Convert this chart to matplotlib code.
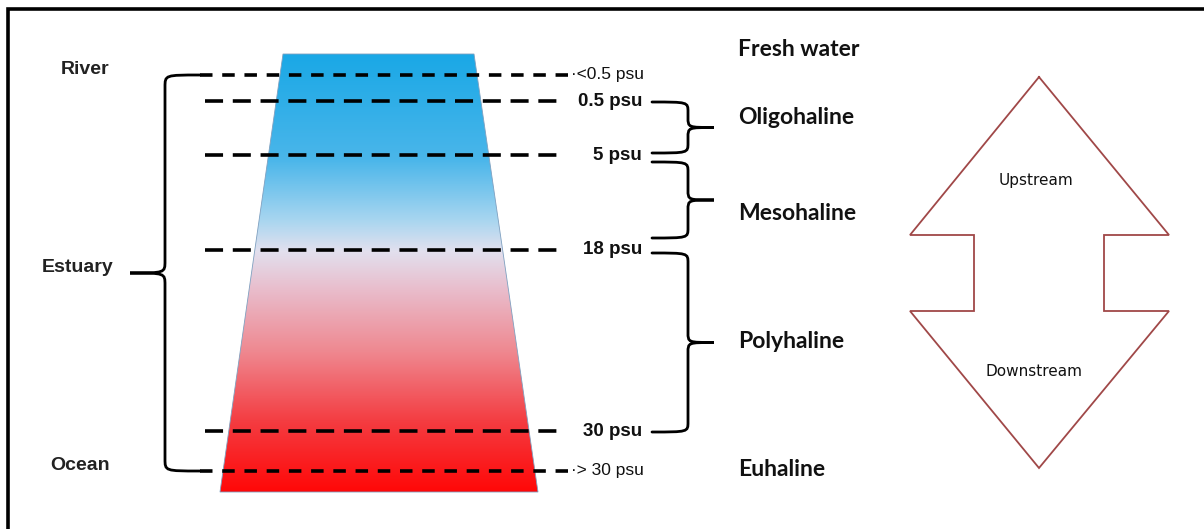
import numpy as np
import matplotlib.pyplot as plt
from matplotlib.path import Path
from matplotlib.patches import PathPatch, Polygon
from matplotlib.colors import LinearSegmentedColormap

plt.rcParams['lines.scale_dashes'] = False

# salinity boundaries (label, y position in the drawing)
psu_labels = ['<0.5 psu', '0.5 psu', '5 psu', '18 psu', '30 psu', '> 30 psu']
psu_y = [75, 101, 155, 250, 431, 471]
psu_bold = [False, True, True, True, True, False]

# zones on the right
zone_names = ['Fresh water', 'Oligohaline', 'Mesohaline', 'Polyhaline', 'Euhaline']
zone_y = [50, 117, 214, 342, 470]

# braces for the zones (top, bottom)
brace_top = [102, 162, 253]
brace_bot = [153, 238, 432]

# left side labels
side_names = ['River', 'Estuary', 'Ocean']
side_x = [85, 78, 80]
side_y = [69, 268, 466]

# gradient stops (position 0 = top, 1 = bottom)
grad_pos = [0.0, 0.24, 0.38, 0.45, 0.54, 0.68, 0.84, 1.0]
grad_col = ['#1aa8e6', '#4ab6ea', '#a9d6f0', '#e2e0ee', '#e9bccb', '#ef8890', '#f43c41', '#ff0808']

W, H = 1204, 529
fig = plt.figure(figsize=(W / 100, H / 100), dpi=100)
ax = fig.add_axes([0, 0, 1, 1])
ax.set_xlim(0, W)
ax.set_ylim(H, 0)
ax.axis('off')

# frame (top and left only)
ax.plot([8, 8, W + 5], [H + 5, 9, 9], color='black', lw=2.6, solid_joinstyle='miter')

# trapezoid with gradient
trap = Polygon([[283, 54], [474, 54], [538, 492], [220, 492]], closed=True,
               facecolor='none', edgecolor='#7fa0c0', lw=0.6, zorder=2)
ax.add_patch(trap)
cmap = LinearSegmentedColormap.from_list('sal', list(zip(grad_pos, grad_col)))
grad = np.linspace(0, 1, 256).reshape(-1, 1)
im = ax.imshow(grad, cmap=cmap, extent=[220, 538, 492, 54], aspect='auto', zorder=1)
im.set_clip_path(trap)


def brace(x_end, x_spine, x_tip, y0, y1, r=10):
    ym = (y0 + y1) / 2
    verts = [(x_end, y0),
             (x_spine, y0), (x_spine, y0), (x_spine, y0 + r),
             (x_spine, ym - r),
             (x_spine, ym), (x_spine, ym), (x_tip, ym),
             (x_spine, ym), (x_spine, ym), (x_spine, ym + r),
             (x_spine, y1 - r),
             (x_spine, y1), (x_spine, y1), (x_end, y1)]
    codes = [Path.MOVETO,
             Path.CURVE4, Path.CURVE4, Path.CURVE4,
             Path.LINETO,
             Path.CURVE4, Path.CURVE4, Path.CURVE4,
             Path.CURVE4, Path.CURVE4, Path.CURVE4,
             Path.LINETO,
             Path.CURVE4, Path.CURVE4, Path.CURVE4]
    ax.add_patch(PathPatch(Path(verts, codes), facecolor='none', edgecolor='black',
                           lw=2.0, zorder=3, capstyle='round'))


# dashed salinity lines
for lab, y, b in zip(psu_labels, psu_y, psu_bold):
    if b:
        ax.plot([205, 560], [y, y], color='black', lw=2.6, ls=(0, (13, 7)), zorder=4)
        ax.text(642, y, lab, ha='right', va='center', fontsize=13.5, fontweight='bold',
                family='Liberation Sans', color='#111111')
    else:
        ax.plot([200, 568], [y, y], color='black', lw=2.6, ls=(0, (9, 7)), zorder=4)
        ax.text(571, y - 1, '·' + lab, ha='left', va='center', fontsize=12.5,
                family='Liberation Sans', color='#111111')

# left brace
brace(200, 165, 130, psu_y[0], psu_y[-1], r=12)
for lab, x, y in zip(side_names, side_x, side_y):
    ax.text(x, y, lab, ha='center', va='center', fontsize=14, fontweight='bold',
            family='Liberation Sans', color='#222222')

# right braces
for t, b in zip(brace_top, brace_bot):
    brace(652, 688, 714, t, b, r=10)

for lab, y in zip(zone_names, zone_y):
    ax.text(738, y, lab, ha='left', va='center', fontsize=16.5, fontweight='bold',
            family='Lato', color='#111111')

# double arrow
arrow_x = [1039, 1169, 1104, 1104, 1169, 1039, 910, 974, 974, 910, 1039]
arrow_y = [77, 235, 235, 311, 311, 468, 311, 311, 235, 235, 77]
ax.plot(arrow_x, arrow_y, color='#a04848', lw=1.3, solid_joinstyle='miter')
ax.text(1036, 180, 'Upstream', ha='center', va='center', fontsize=11,
        family='DejaVu Sans', color='#111111')
ax.text(1034, 372, 'Downstream', ha='center', va='center', fontsize=11,
        family='DejaVu Sans', color='#111111')

fig.savefig('out.png', dpi=100)
